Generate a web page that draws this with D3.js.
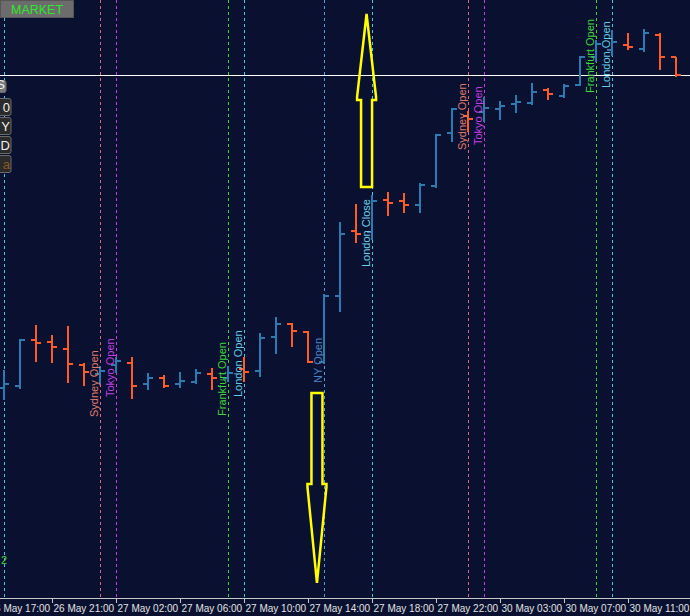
<!DOCTYPE html>
<html>
<head>
<meta charset="utf-8">
<script src="https://cdn.jsdelivr.net/npm/d3@7"></script>
<style>
  body { margin: 0; background: #0a1130; }
  svg { display: block; }
</style>
</head>
<body>
<div id="chart"></div>
<script>
// hourly bars, index 0..42 (26 May 18:00 -> 30 May 14:00)
var opens  = [109.224,109.228,109.320,109.316,109.302,109.270,109.252,109.270,109.274,109.232,
              109.244,109.232,109.236,109.252,109.244,109.262,109.258,109.326,109.352,109.336,
              109.276,109.408,109.538,109.536,109.600,109.598,109.590,109.628,109.734,109.768,
              109.776,109.782,109.792,109.794,109.820,109.808,109.830,109.886,109.900,109.910,
              109.902,109.930,109.886];
var highs  = [109.260,109.322,109.350,109.330,109.348,109.274,109.268,109.286,109.286,109.254,
              109.250,109.256,109.262,109.264,109.268,109.286,109.334,109.366,109.354,109.338,
              109.412,109.556,109.592,109.610,109.616,109.614,109.634,109.732,109.784,109.778,
              109.806,109.798,109.810,109.834,109.824,109.832,109.888,109.920,109.940,109.934,
              109.942,109.934,109.886];
var lows   = [109.200,109.222,109.276,109.274,109.234,109.228,109.232,109.254,109.202,109.220,
              109.224,109.224,109.232,109.220,109.236,109.236,109.246,109.292,109.306,109.274,
              109.272,109.376,109.514,109.520,109.568,109.574,109.574,109.624,109.716,109.736,
              109.756,109.760,109.774,109.790,109.800,109.804,109.828,109.876,109.888,109.900,
              109.896,109.860,109.846];
var closes = [109.232,109.320,109.314,109.306,109.272,109.256,109.258,109.278,109.228,109.244,
              109.228,109.238,109.254,109.244,109.254,109.256,109.324,109.352,109.338,109.276,
              109.408,109.532,109.532,109.598,109.594,109.590,109.630,109.730,109.782,109.762,
              109.784,109.788,109.796,109.816,109.812,109.828,109.886,109.912,109.916,109.906,
              109.934,109.886,109.850];

// time axis labels and the bar index they sit on
var tickBars   = [-1, 3, 7, 11, 15, 19, 23, 27, 31, 35, 39];
var tickLabels = ["26 May 17:00", "26 May 21:00", "27 May 02:00", "27 May 06:00", "27 May 10:00",
                  "27 May 14:00", "27 May 18:00", "27 May 22:00", "30 May 03:00", "30 May 07:00",
                  "30 May 11:00"];

// session markers
var sessionNames  = ["London Close", "Sydney Open", "Tokyo Open", "Frankfurt Open", "London Open",
                     "NY Open", "London Close", "Sydney Open", "Tokyo Open", "Frankfurt Open", "London Open"];
var sessionBars   = [0, 6, 7, 14, 15, 20, 23, 29, 30, 37, 38];
var sessionLabelPrices = [null, 109.166, 109.206, 109.168, 109.206, 109.234, 109.466, 109.700, 109.710, 109.814, 109.824];

var bidPrice = 109.850;

// annotation arrows: bar position and prices (tip, head base, tail)
var arrowBars  = [22.66, 19.56];
var arrowTips  = [109.972, 108.834];
var arrowHeads = [109.806, 109.026];
var arrowTails = [109.626, 109.214];

var sessionStyle = {
  "Sydney Open":    { line: "#e0687e", text: "#e07a6a" },
  "Tokyo Open":     { line: "#c83ae8", text: "#c43ee6" },
  "Frankfurt Open": { line: "#34d834", text: "#3ad83a" },
  "London Open":    { line: "#44c6e6", text: "#62cbe4" },
  "NY Open":        { line: "#5a9ad8", text: "#4586c8" },
  "London Close":   { line: "#44c6e6", text: "#6ccfe6" }
};

var svgWidth = 690;
var svgHeight = 616;
var axisY = 598;
var upColor = "#2c7bb0";
var downColor = "#ff5a2a";

var svg = d3.select("#chart")
  .append("svg")
  .attr("width", svgWidth)
  .attr("height", svgHeight);

svg.append("rect")
  .attr("width", svgWidth)
  .attr("height", svgHeight)
  .attr("fill", "#0a1130");

var xScale = d3.scaleLinear()
  .domain([0, 42])
  .range([4, 676]);

var yScale = d3.scaleLinear()
  .domain([108.8, 110.0])
  .range([600, 0]);

// session vertical lines
var sessions = sessionNames.map(function(n, i) {
  return { name: n, bar: sessionBars[i], price: sessionLabelPrices[i] };
});

svg.selectAll("line.session")
  .data(sessions)
  .enter()
  .append("line")
  .attr("class", "session")
  .attr("x1", d => Math.round(xScale(d.bar)) + 0.5)
  .attr("x2", d => Math.round(xScale(d.bar)) + 0.5)
  .attr("y1", 0)
  .attr("y2", axisY)
  .attr("stroke", d => sessionStyle[d.name].line)
  .attr("stroke-width", 1)
  .attr("stroke-dasharray", "3,3");

// bid line
svg.append("line")
  .attr("x1", 0)
  .attr("x2", svgWidth)
  .attr("y1", Math.round(yScale(bidPrice)) + 0.5)
  .attr("y2", Math.round(yScale(bidPrice)) + 0.5)
  .attr("stroke", "#ffffff")
  .attr("stroke-width", 1);

// OHLC bars
var bars = opens.map(function(o, i) {
  return { i: i, o: o, h: highs[i], l: lows[i], c: closes[i] };
});

var barG = svg.selectAll("g.bar")
  .data(bars)
  .enter()
  .append("g")
  .attr("class", "bar")
  .attr("stroke", d => d.c >= d.o ? upColor : downColor)
  .attr("stroke-width", 2)
  .attr("shape-rendering", "crispEdges");

barG.append("line")
  .attr("x1", d => xScale(d.i))
  .attr("x2", d => xScale(d.i))
  .attr("y1", d => yScale(d.h))
  .attr("y2", d => yScale(d.l));
barG.append("line")
  .attr("x1", d => xScale(d.i) - 5)
  .attr("x2", d => xScale(d.i))
  .attr("y1", d => yScale(d.o))
  .attr("y2", d => yScale(d.o));
barG.append("line")
  .attr("x1", d => xScale(d.i))
  .attr("x2", d => xScale(d.i) + 5)
  .attr("y1", d => yScale(d.c))
  .attr("y2", d => yScale(d.c));

// session labels (rotated)
svg.selectAll("text.session")
  .data(sessions.filter(d => d.price !== null))
  .enter()
  .append("text")
  .attr("class", "session")
  .attr("transform", d => `translate(${Math.round(xScale(d.bar)) - 2}, ${yScale(d.price)}) rotate(-90)`)
  .attr("fill", d => sessionStyle[d.name].text)
  .style("font-family", "'Liberation Sans', Arial, sans-serif")
  .style("font-size", "11px")
  .text(d => d.name);

// yellow arrows
var arrows = arrowBars.map(function(b, i) {
  return { cx: xScale(b), tip: yScale(arrowTips[i]), head: yScale(arrowHeads[i]), tail: yScale(arrowTails[i]) };
});
svg.selectAll("polygon.arrow")
  .data(arrows)
  .enter()
  .append("polygon")
  .attr("class", "arrow")
  .attr("points", function(d) {
    var s = d.tip < d.head ? 1 : -1; // 1 = pointing up
    var hw = 9.5, sw = 5.5;
    return [
      [d.cx, d.tip],
      [d.cx + hw, d.head],
      [d.cx + hw, d.head + 3 * s],
      [d.cx + sw, d.head + 3 * s],
      [d.cx + sw, d.tail],
      [d.cx - sw, d.tail],
      [d.cx - sw, d.head + 3 * s],
      [d.cx - hw, d.head + 3 * s],
      [d.cx - hw, d.head]
    ].map(p => p.join(",")).join(" ");
  })
  .attr("fill", "none")
  .attr("stroke", "#ffff00")
  .attr("stroke-width", 2.5);

// time axis
svg.append("line")
  .attr("x1", 0)
  .attr("x2", svgWidth)
  .attr("y1", axisY + 0.5)
  .attr("y2", axisY + 0.5)
  .attr("stroke", "#c8c8c8");

var xAxis = d3.axisBottom(xScale)
  .tickValues(tickBars)
  .tickSize(5)
  .tickFormat(function(d, i) { return tickLabels[i]; });

var axisG = svg.append("g")
  .attr("transform", `translate(0, ${axisY})`)
  .call(xAxis);
axisG.select(".domain").remove();
axisG.selectAll("line").attr("stroke", "#c8c8c8");
axisG.selectAll("text")
  .attr("text-anchor", "start")
  .attr("x", 1)
  .attr("y", 5)
  .attr("dy", "0.85em")
  .attr("fill", "#e2e2e2")
  .style("font-family", "'Liberation Sans', Arial, sans-serif")
  .style("font-size", "10px");

// terminal buttons (cut off at left edge)
svg.append("rect")
  .attr("x", 0.5).attr("y", 0.5).attr("width", 73).attr("height", 17)
  .attr("fill", "#6c6c6c").attr("stroke", "#555");
svg.append("text")
  .attr("x", 11).attr("y", 14)
  .attr("fill", "#2ee82e")
  .style("font-family", "'Liberation Sans', Arial, sans-serif")
  .style("font-size", "12.5px")
  .text("MARKET");

var sideButtons = ["S", "0", "Y", "D", "a"];
var sideColors = ["#f0f0f0", "#f0f0f0", "#f0f0f0", "#f0f0f0", "#8a5a1e"];
sideButtons.forEach(function(t, i) {
  var top = i === 0 ? 80 : 98 + (i - 1) * 19;
  var h = i === 0 ? 12 : 17;
  var w = i === 0 ? 6 : 11;
  svg.append("rect")
    .attr("x", -20).attr("y", top + 0.5).attr("width", 20 + w).attr("height", h)
    .attr("rx", 2)
    .attr("fill", i === 0 ? "#7a7a7a" : "#2b2b2b")
    .attr("stroke", "#6a6a6a");
  svg.append("text")
    .attr("x", w - 1).attr("y", top + h - 3)
    .attr("text-anchor", "end")
    .attr("fill", sideColors[i])
    .style("font-family", "'Liberation Sans', Arial, sans-serif")
    .style("font-size", "13px")
    .text(t);
});

svg.append("text")
  .attr("x", 1).attr("y", 564)
  .attr("fill", "#3ad83a")
  .style("font-family", "'Liberation Sans', Arial, sans-serif")
  .style("font-size", "11px")
  .text("2");
</script>
</body>
</html>
